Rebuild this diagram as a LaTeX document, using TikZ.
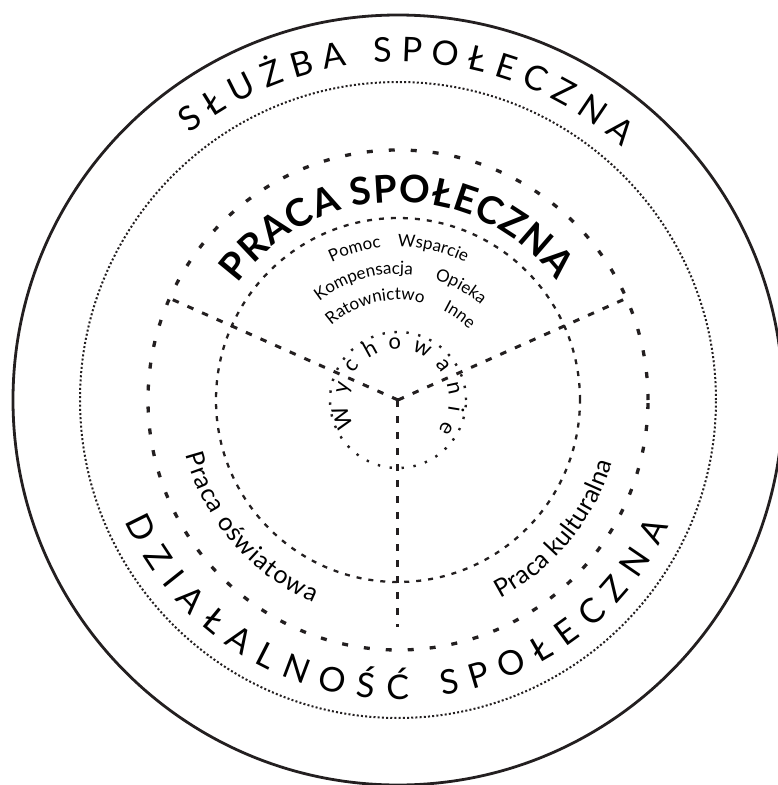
\documentclass[tikz,border=0pt]{standalone}
\usepackage{fontspec}
\setmainfont{Lato}
\usetikzlibrary{decorations.text}
\definecolor{ink}{HTML}{231F20}
\newcommand{\ringfont}{\fontsize{34}{36}\selectfont}
\newcommand{\headfont}{\fontsize{38}{40}\selectfont\bfseries}
\newcommand{\fieldfont}{\fontsize{25}{27}\selectfont}
\newcommand{\wordfont}{\fontsize{17}{19}\selectfont}
\newcommand{\corefont}{\fontsize{22}{24}\selectfont}
\tikzset{
  rim/.style={draw=ink, line width=2.8pt},
  finering/.style={draw=ink, line width=2pt, dash pattern=on 2pt off 2.2pt},
  bigring/.style={draw=ink, line width=3.3pt, dash pattern=on 6pt off 16pt},
  midring/.style={draw=ink, line width=2.3pt, dash pattern=on 5pt off 7pt},
  corering/.style={draw=ink, line width=2.4pt, dash pattern=on 2.4pt off 9.6pt},
  spoke/.style={draw=ink, line width=3pt, dash pattern=on 6.5pt off 9.5pt},
  arcfit/.style={decorate, decoration={text along path, text={#1}, text align=fit to path}},
  arcword/.style={decorate, decoration={text along path, text={#1}, text align=center}}
}

\begin{document}
\begin{tikzpicture}[x=1pt, y=1pt, color=ink]
  \useasboundingbox (-398,-385) rectangle (380,400);
  \coordinate (hub) at (0,0);
  \coordinate (west end) at (156:250);
  \coordinate (east end) at (24:250);
  \coordinate (south end) at (270:227);

  % rings
  \draw[rim] (hub) circle (385);
  \draw[finering] (hub) circle (318);
  \draw[bigring] (hub) circle (250);
  \draw[midring] (hub) circle (182);
  \draw[corering] (hub) circle (68);

  % spokes
  \draw[spoke] (hub) -- (west end);
  \draw[spoke] (hub) -- (east end);
  \draw[spoke] (hub) -- (south end);

  % outer titles
  \path[arcfit={|\ringfont|SŁUŻBA SPOŁECZNA}]
    (128:338) arc[start angle=128, end angle=48.5, radius=338];
  \path[arcfit={|\ringfont|DZIAŁALNOŚĆ SPOŁECZNA}]
    (204:299) arc[start angle=204, end angle=335, radius=299];
  \path[arcfit={|\headfont|PRACA SPOŁECZNA}]
    (144:198) arc[start angle=144, end angle=37, radius=198];

  % fields
  \path[arcfit={|\fieldfont|Praca oświatowa}]
    (194.4:219) arc[start angle=194.4, end angle=247.3, radius=219];
  \path[arcfit={|\fieldfont|Praca kulturalna}]
    (297.4:223) arc[start angle=297.4, end angle=343.7, radius=223];

  % forms of social work
  \path[arcword={|\wordfont|Pomoc}]
    (146:153) arc[start angle=146, end angle=66, radius=153];
  \path[arcword={|\wordfont|Wsparcie}]
    (117:153) arc[start angle=117, end angle=37, radius=153];
  \path[arcword={|\wordfont|Kompensacja}]
    (156:126) arc[start angle=156, end angle=56, radius=126];
  \path[arcword={|\wordfont|Opieka}]
    (111:126) arc[start angle=111, end angle=11, radius=126];
  \path[arcword={|\wordfont|Ratownictwo}]
    (163.5:100) arc[start angle=163.5, end angle=43.5, radius=100];
  \path[arcword={|\wordfont|Inne}]
    (104:100) arc[start angle=104, end angle=4, radius=100];

  % core
  \path[arcfit={|\corefont|Wychowanie}]
    (211:51) arc[start angle=211, end angle=-37, radius=51];
\end{tikzpicture}
\end{document}
